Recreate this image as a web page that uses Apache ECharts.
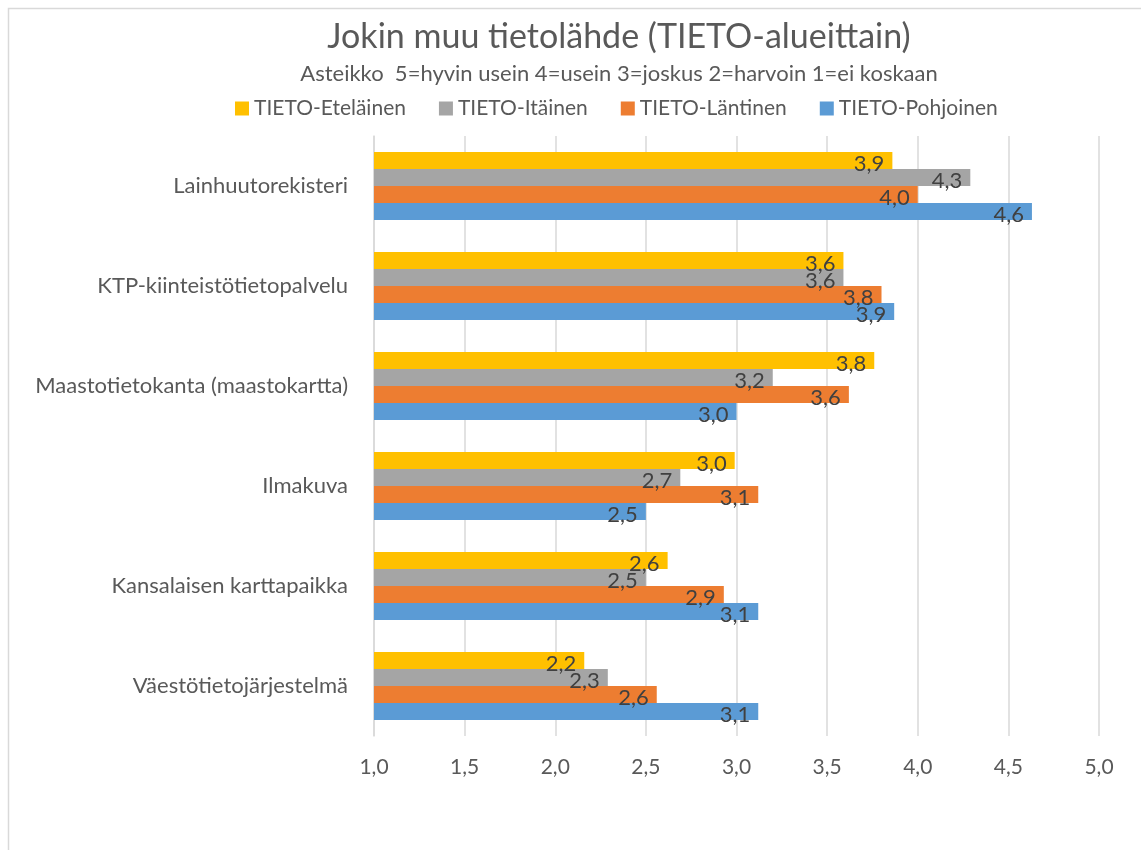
<!DOCTYPE html>
<html>
<head>
<meta charset="utf-8">
<script src="https://cdn.jsdelivr.net/npm/echarts@6/dist/echarts.min.js"></script>
<style>
  html, body { margin: 0; padding: 0; background: #fff; }
  #main { width: 1141px; height: 850px; }
</style>
</head>
<body>
<div id="main"></div>
<script>
// luokat ylhäältä alas
var kategoriat = ['Lainhuutorekisteri', 'KTP-kiinteistötietopalvelu', 'Maastotietokanta (maastokartta)',
  'Ilmakuva', 'Kansalaisen karttapaikka', 'Väestötietojärjestelmä'];

var etelainen = [3.86, 3.59, 3.76, 2.99, 2.62, 2.16];
var itainen = [4.29, 3.59, 3.2, 2.69, 2.5, 2.29];
var lantinen = [4.0, 3.8, 3.62, 3.12, 2.93, 2.56];
var pohjoinen = [4.63, 3.87, 3.0, 2.5, 3.12, 3.12];

var sarjat = ['TIETO-Eteläinen', 'TIETO-Itäinen', 'TIETO-Läntinen', 'TIETO-Pohjoinen'];
var varit = ['#FFC000', '#A5A5A5', '#ED7D31', '#5B9BD5'];
var arvot = [etelainen, itainen, lantinen, pohjoinen];

var fontti = 'Lato, "Open Sans", sans-serif';

function pilkku(v) {
    return v.toFixed(1).replace('.', ',');
}

var myChart = echarts.init(document.getElementById('main'));

var series = sarjat.map(function (nimi, i) {
    return {
        name: nimi,
        type: 'bar',
        data: arvot[i],
        barGap: '0%',
        barCategoryGap: '32%',
        itemStyle: { color: varit[i] },
        label: {
            show: true,
            position: 'insideRight',
            offset: [-3, 3],
            color: '#404040',
            fontSize: 22,
            fontFamily: fontti,
            formatter: function (p) { return pilkku(p.value); }
        }
    };
});

var option = {
    backgroundColor: '#fff',
    textStyle: { fontFamily: fontti },
    title: {
        text: 'Jokin muu tietolähde (TIETO-alueittain)',
        subtext: 'Asteikko  5=hyvin usein 4=usein 3=joskus 2=harvoin 1=ei koskaan',
        left: 614,
        textAlign: 'center',
        top: 15,
        itemGap: 9,
        textStyle: { fontSize: 34, fontWeight: 'normal', color: '#595959', fontFamily: fontti },
        subtextStyle: { fontSize: 22, color: '#595959', fontFamily: fontti }
    },
    legend: {
        data: sarjat,
        top: 93,
        left: 230,
        itemWidth: 14,
        itemHeight: 14,
        itemGap: 33,
        icon: 'rect',
        textStyle: { fontSize: 21, color: '#595959', fontFamily: fontti }
    },
    grid: {
        left: 374,
        right: 42,
        top: 136,
        height: 600
    },
    xAxis: {
        type: 'value',
        min: 1,
        max: 5,
        interval: 0.5,
        axisLine: { show: false },
        axisTick: { show: false },
        splitLine: { lineStyle: { color: '#d9d9d9', width: 1.5 } },
        axisLabel: {
            color: '#595959',
            fontSize: 21,
            margin: 21,
            formatter: function (v) { return pilkku(v); }
        }
    },
    yAxis: {
        type: 'category',
        data: kategoriat,
        inverse: true,
        axisLine: { show: true, lineStyle: { color: '#d9d9d9', width: 1.5 } },
        axisTick: { show: false },
        axisLabel: { color: '#595959', fontSize: 22, margin: 26 }
    },
    graphic: [{
        type: 'rect',
        shape: { x: 8.5, y: 8.5, width: 1200, height: 900 },
        style: { fill: 'none', stroke: '#d9d9d9', lineWidth: 1.5 },
        silent: true
    }],
    series: series
};

myChart.setOption(option);

window.addEventListener('resize', function () {
    myChart.resize();
});
</script>
</body>
</html>
